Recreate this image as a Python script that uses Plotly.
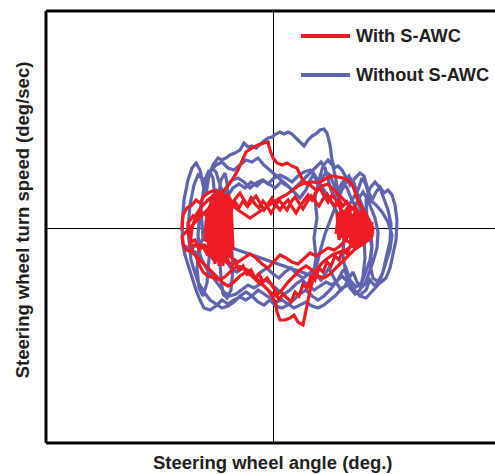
import plotly.graph_objects as go

# ---- data: (steering wheel angle, steering wheel turn speed) (arbitrary units) ----
without_loop1 = [
    (-90, -17), (-91, 3), (-89, 28), (-85, 48), (-81, 60), (-77, 65), (-73, 58), (-70, 43), (-67, 33), (-64, 53),
    (-60, 63), (-55, 70), (-51, 68), (-47, 70), (-43, 73), (-38, 75), (-33, 78), (-29, 85), (-25, 81), (-21, 82),
    (-17, 80), (-13, 84), (-9, 87), (-5, 90), (-1, 91), (3, 94), (7, 96), (11, 94), (15, 96), (19, 94),
    (23, 90), (27, 86), (31, 82), (35, 88), (39, 92), (43, 94), (47, 98), (51, 99), (54, 95), (57, 83),
    (59, 68), (61, 60), (65, 62), (69, 58), (73, 50), (77, 43), (82, 50), (87, 55), (91, 52), (95, 38),
    (99, 28), (103, 36), (107, 41), (111, 35), (115, 38), (119, 33), (122, 23), (124, 8), (123, -12), (120, -27),
    (117, -40), (113, -50), (107, -55), (101, -57), (97, -52), (93, -62), (87, -67), (81, -64), (75, -57), (69, -60),
    (63, -67), (57, -72), (51, -77), (45, -80), (39, -78), (33, -74), (27, -77), (21, -80), (15, -76), (9, -72),
    (3, -74), (-3, -70), (-9, -66), (-15, -62), (-21, -68), (-27, -72), (-33, -69), (-39, -72), (-45, -76), (-51, -72),
    (-57, -78), (-63, -82), (-69, -80), (-73, -72), (-77, -62), (-81, -50), (-85, -37), (-88, -27), (-90, -17),
]
without_loop2 = [
    (-73, -27), (-75, -7), (-73, 18), (-69, 38), (-65, 53), (-61, 60), (-57, 56), (-53, 43), (-49, 33), (-45, 43),
    (-41, 48), (-35, 50), (-29, 46), (-23, 40), (-17, 45), (-11, 48), (-5, 44), (1, 50), (7, 53), (13, 50),
    (19, 46), (25, 52), (31, 56), (37, 58), (41, 53), (45, 43), (49, 50), (53, 56), (57, 53), (61, 43),
    (65, 33), (69, 38), (73, 46), (77, 50), (81, 45), (85, 33), (89, 23), (93, 13), (97, -2), (99, -17),
    (97, -32), (93, -44), (89, -54), (83, -59), (77, -52), (73, -40), (69, -44), (65, -52), (59, -57), (53, -54),
    (47, -58), (41, -62), (35, -57), (29, -52), (23, -56), (17, -62), (11, -66), (5, -62), (-1, -57), (-7, -52),
    (-13, -56), (-19, -60), (-25, -57), (-31, -62), (-37, -66), (-43, -68), (-49, -64), (-55, -56), (-61, -48), (-67, -40),
    (-71, -32), (-73, -27),
]
without_loop3 = [
    (-83, -22), (-85, -2), (-83, 23), (-79, 43), (-75, 53), (-69, 48), (-63, 56), (-57, 63), (-51, 66), (-45, 60),
    (-39, 58), (-33, 63), (-27, 68), (-21, 66), (-15, 70), (-9, 63), (-3, 58), (3, 53), (9, 48), (15, 42),
    (21, 36), (27, 30), (33, 38), (37, 48), (41, 54), (45, 48), (51, 38), (57, 28), (63, 18), (67, 8),
    (73, 18), (79, 28), (85, 38), (89, 50), (93, 43), (97, 28), (103, 23), (109, 16), (115, 6), (119, -7),
    (117, -22), (113, -34), (109, -47), (105, -57), (99, -64), (93, -70), (87, -68), (81, -62), (75, -54), (69, -48),
    (63, -54), (57, -62), (51, -68), (45, -72), (39, -68), (33, -62), (27, -66), (21, -72), (15, -77), (9, -80),
    (3, -78), (-3, -72), (-9, -77), (-15, -74), (-21, -68), (-27, -64), (-33, -68), (-39, -74), (-45, -78), (-51, -80),
    (-57, -76), (-63, -72), (-69, -64), (-75, -54), (-79, -42), (-82, -32), (-83, -22),
]
without_loop4 = [
    (-58, -2), (-56, 18), (-52, 30), (-48, 38), (-44, 34), (-40, 40), (-34, 44), (-28, 40), (-22, 46), (-16, 42),
    (-10, 48), (-4, 44), (2, 40), (8, 46), (14, 42), (20, 38), (26, 44), (32, 50), (38, 56), (44, 62),
    (48, 66), (52, 60), (55, 50), (58, 38), (62, 30), (66, 40), (70, 46), (74, 40), (78, 30), (82, 22),
    (86, 30), (90, 36), (94, 30), (98, 20), (102, 10), (105, -4), (104, -20), (100, -34), (96, -46), (92, -56),
    (88, -60), (84, -54), (80, -44), (76, -50), (72, -58), (68, -62), (64, -56), (60, -48), (56, -40), (52, -46),
    (48, -52), (44, -48), (40, -42), (36, -46), (30, -50), (24, -46), (18, -40), (12, -44), (6, -50), (0, -46),
    (-6, -40), (-12, -44), (-18, -50), (-24, -46), (-30, -40), (-36, -44), (-42, -40), (-48, -32), (-54, -20), (-58, -2),
]
without_loop5 = [
    (-70, -10), (-72, 20), (-68, 48), (-64, 58), (-60, 50), (-58, 30), (-56, 10), (-54, -20), (-52, -50), (-50, -66),
    (-46, -70), (-42, -62), (-40, -40), (-42, -10), (-44, 20), (-46, 45), (-48, 55), (-52, 48), (-56, 25), (-60, 0),
    (-64, -30), (-66, -55), (-70, -68), (-74, -60), (-76, -40), (-74, -20), (-70, -10),
]
without_loop6 = [
    (40, -48), (43, -30), (41, -10), (44, 10), (42, 30), (46, 48), (50, 62), (55, 68), (60, 62), (63, 48),
    (66, 30), (68, 12), (71, -8), (70, -28), (73, -46), (77, -60), (82, -66), (87, -62), (90, -48), (92, -30),
    (91, -10), (94, 10), (93, 28), (97, 40), (102, 46), (107, 40), (111, 28), (115, 18), (118, 4), (117, -14),
    (113, -30), (110, -44), (105, -54), (100, -50), (97, -36), (99, -20), (96, -4), (92, 6), (88, 16), (84, 30),
    (80, 44), (76, 52), (72, 48), (68, 36), (64, 26), (60, 16), (56, 6), (52, -6), (48, -20), (44, -36),
    (40, -48),
]

with_loop1 = [
    (-91, -2), (-90, 13), (-86, 20), (-81, 23), (-77, 28), (-73, 25), (-69, 32), (-63, 36), (-57, 38), (-53, 33),
    (-47, 40), (-41, 48), (-35, 58), (-31, 68), (-27, 76), (-21, 80), (-15, 83), (-9, 85), (-5, 86), (-3, 78),
    (0, 70), (4, 65), (9, 63), (14, 65), (19, 62), (24, 60), (27, 53), (30, 47), (35, 45), (40, 46),
    (45, 45), (50, 48), (54, 50), (59, 52), (65, 51), (70, 50), (75, 48), (79, 44), (82, 36), (85, 28),
    (89, 20), (93, 14), (97, 6), (100, 0), (99, -8), (96, -12), (91, -14), (85, -16), (79, -18), (73, -22),
    (67, -24), (61, -26), (55, -30), (49, -35), (45, -40), (41, -48), (38, -58), (36, -68), (34, -78), (32, -88),
    (30, -97), (25, -94), (21, -87), (17, -90), (12, -92), (7, -92), (4, -84), (3, -76), (-1, -68), (-5, -62),
    (-11, -56), (-17, -50), (-23, -44), (-29, -40), (-35, -38), (-41, -42), (-47, -48), (-53, -52), (-59, -50), (-65, -48),
    (-70, -44), (-74, -36), (-77, -28), (-81, -24), (-87, -22), (-90, -16), (-91, -8),
]
with_left_cluster = [
    (-64, 20), (-62, -30), (-60, 34), (-58, -36), (-56, 30), (-54, -38), (-52, 36), (-50, -32), (-48, 28), (-46, -36),
    (-44, 32), (-42, -28), (-45, 24), (-49, -34), (-53, 38), (-57, -30), (-61, 26), (-63, -20), (-59, 30), (-55, -34),
    (-51, 34), (-47, -30), (-43, 20), (-41, -20), (-66, 10), (-64, -22), (-62, 30), (-60, -26), (-57, 36), (-55, -32),
    (-52, 28), (-50, -38), (-47, 34), (-45, -26), (-43, 30), (-40, -22), (-42, 26), (-46, -30), (-50, 32), (-54, -24),
    (-58, 34), (-62, -28), (-65, 18), (-63, -14),
]
with_loop2_out = [
    (-68, -12), (-67, 6), (-65, 18), (-61, 26), (-57, 28), (-53, 21), (-49, 28), (-45, 33), (-41, 25), (-37, 30),
    (-33, 35), (-29, 28), (-25, 22), (-21, 28), (-17, 32), (-13, 25), (-9, 18), (-5, 24), (-1, 30), (3, 23),
    (7, 18), (11, 24), (15, 28), (19, 21), (23, 15), (27, 22), (31, 28), (35, 33), (39, 28), (43, 36),
    (47, 40), (51, 32), (55, 26), (59, 33), (63, 28), (67, 20), (71, 14), (75, 18), (79, 12), (83, 6),
    (87, 0),
]
with_right_cluster = [
    (90, 10), (92, -10), (88, 16), (85, -12), (82, 18), (78, -14), (74, 20), (70, -10), (66, 16), (63, -6),
    (68, 12), (72, -12), (76, 18), (80, -16), (84, 14), (88, -12), (92, 12), (96, -8), (99, 6), (97, -10),
    (93, 14), (89, -14), (86, 6), (64, 14), (66, -12), (70, 18), (73, -14), (77, 16), (81, -18), (85, 16),
    (89, -10), (94, 12), (98, -4), (95, 10), (91, -12), (86, 14), (82, -14), (78, 12), (74, -10), (70, 14),
    (67, -8),
]
with_loop2_back = [
    (89, -8), (85, -14), (79, -16), (73, -12), (67, -18), (61, -22), (55, -20), (49, -24), (43, -28), (37, -25),
    (31, -30), (25, -36), (19, -34), (13, -30), (7, -27), (1, -34), (-5, -40), (-11, -36), (-17, -30), (-23, -26),
    (-29, -30), (-35, -34), (-41, -30), (-47, -26), (-53, -28), (-59, -32), (-64, -26), (-68, -17),
]
with_loop3 = [
    (-83, -17), (-81, 0), (-77, 13), (-71, 22), (-65, 28), (-59, 33), (-53, 36), (-47, 30), (-41, 24), (-35, 18),
    (-29, 14), (-23, 10), (-17, 14), (-11, 18), (-5, 22), (1, 26), (7, 30), (13, 33), (19, 38), (25, 42),
    (31, 45), (37, 43), (43, 38), (49, 42), (55, 44), (61, 38), (67, 32), (73, 26), (79, 20), (85, 16),
    (91, 10), (95, 2), (97, -6), (93, -14), (87, -18), (81, -22), (75, -28), (69, -34), (63, -40), (57, -46),
    (51, -50), (45, -48), (39, -42), (33, -38), (27, -42), (21, -48), (15, -54), (9, -62), (3, -68), (-3, -64),
    (-9, -58), (-15, -54), (-21, -48), (-27, -44), (-33, -48), (-39, -54), (-45, -58), (-51, -54), (-57, -48), (-63, -42),
    (-69, -36), (-75, -30), (-81, -24),
]
with_loop4 = [
    (-85, 5), (-80, 12), (-76, 8), (-72, 16), (-66, 12), (-62, 20), (-58, 14), (-54, 22), (-50, 17), (-46, 24),
    (-42, 18), (-38, 26), (-34, 20), (-30, 27), (-26, 22), (-22, 30), (-18, 24), (-14, 20), (-10, 27), (-6, 22),
    (-2, 15), (2, 22), (6, 28), (10, 23), (14, 18), (18, 26), (22, 31), (26, 25), (30, 19), (34, 26),
    (38, 32), (42, 27), (46, 22), (50, 29), (54, 34), (58, 27), (62, 22), (66, 28), (70, 22), (74, 26),
    (78, 18), (82, 22), (86, 14), (90, 16), (94, 8), (96, 0), (94, -8), (90, -16), (86, -12), (82, -20),
    (78, -16), (74, -26), (70, -22), (66, -32), (62, -28), (58, -38), (54, -34), (50, -44), (46, -40), (42, -52),
    (38, -48), (34, -60), (30, -56), (26, -68), (22, -64), (18, -74), (14, -70), (10, -66), (6, -72), (2, -62),
    (-2, -56), (-6, -50), (-10, -54), (-14, -46), (-18, -50), (-22, -42), (-26, -46), (-30, -38), (-34, -42), (-38, -34),
    (-42, -38), (-46, -30), (-50, -34), (-54, -26), (-58, -30), (-62, -22), (-66, -26), (-70, -18), (-74, -22), (-78, -12),
    (-82, -14), (-85, -4), (-85, 5),
]

series_names = ["With S-AWC", "Without S-AWC"]
without_path = (without_loop1 + without_loop2 + without_loop3 + without_loop4
                + without_loop5 + without_loop6)
with_path = (with_loop1 + with_left_cluster + with_loop2_out + with_right_cluster
             + with_loop2_back + with_loop3 + with_loop4)

RED = "#ED1C24"
BLUE = "#5F64AF"
TXT = "#231F20"

fig = go.Figure()
fig.add_trace(go.Scatter(x=[p[0] for p in without_path], y=[p[1] for p in without_path], mode="lines",
                         line=dict(color=BLUE, width=3.2), name=series_names[1], showlegend=False))
fig.add_trace(go.Scatter(x=[p[0] for p in with_path], y=[p[1] for p in with_path], mode="lines",
                         line=dict(color=RED, width=3.2), name=series_names[0], showlegend=False))

fig.update_layout(
    width=495, height=474,
    margin=dict(l=46, r=0, t=11, b=31, pad=0),
    paper_bgcolor="white", plot_bgcolor="white",
    xaxis=dict(range=[-227, 222], showticklabels=False, ticks="", showgrid=False,
               zeroline=True, zerolinecolor="black", zerolinewidth=1, showline=False),
    yaxis=dict(range=[-215, 217], showticklabels=False, ticks="", showgrid=False,
               zeroline=True, zerolinecolor="black", zerolinewidth=1, showline=False),
    font=dict(family="Liberation Sans, Arial, sans-serif", color=TXT),
)

frame = dict(color="black", width=3)
fig.add_shape(type="line", xref="paper", yref="paper", x0=0, x1=0, y0=0, y1=1, line=frame)
fig.add_shape(type="line", xref="paper", yref="paper", x0=0, x1=1.05, y0=1, y1=1, line=frame)
fig.add_shape(type="line", xref="paper", yref="paper", x0=0, x1=1.05, y0=0, y1=0, line=frame)

for yy, col, name in [(0.942, RED, series_names[0]), (0.852, BLUE, series_names[1])]:
    fig.add_shape(type="line", xref="paper", yref="paper", x0=0.568, x1=0.677, y0=yy, y1=yy,
                  line=dict(color=col, width=4))
    fig.add_annotation(xref="paper", yref="paper", x=0.687, y=yy, text=f"<b>{name}</b>",
                       showarrow=False, xanchor="left", yanchor="middle",
                       font=dict(size=18.2, color=TXT))

fig.add_annotation(xref="paper", yref="paper", x=(273 - 46) / 449, y=-0.046,
                   text="<b>Steering wheel angle (deg.)</b>", showarrow=False,
                   xanchor="center", yanchor="middle", font=dict(size=18.5, color=TXT))
fig.add_annotation(xref="paper", yref="paper", x=-0.053, y=0.516,
                   text="<b>Steering wheel turn speed (deg/sec)</b>", showarrow=False,
                   textangle=-90, xanchor="center", yanchor="middle",
                   font=dict(size=18.5, color=TXT))

fig.write_html(
    "out.html",
    config={"displayModeBar": False},
    post_script="document.documentElement.style.margin='0';document.body.style.margin='0';"
                "document.body.style.overflow='hidden';",
)
